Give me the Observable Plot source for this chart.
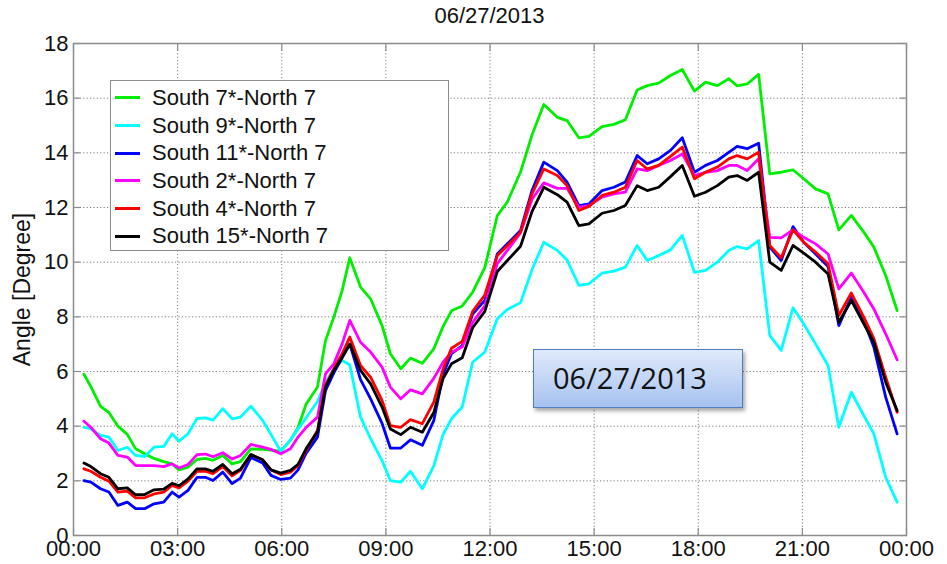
<!DOCTYPE html>
<html>
<head>
<meta charset="utf-8">
<script src="https://cdn.jsdelivr.net/npm/d3@7"></script>
<script src="https://cdn.jsdelivr.net/npm/@observablehq/plot@0.6"></script>
<style>
  html, body { margin: 0; padding: 0; background: #fff; }
  #wrap { position: relative; width: 947px; height: 564px; overflow: hidden; font-family: "Liberation Sans", Arial, sans-serif; }
  #title { position: absolute; left: 0; width: 979px; top: 3px; text-align: center; font-size: 22px; color: #111; }
  #legend { position: absolute; left: 110px; top: 80px; width: 339px; height: 171px; background: #fff; border: 1.5px solid #8c8c8c; box-sizing: border-box; padding-top: 3px; }
  .row { height: 27.7px; display: flex; align-items: center; font-size: 22px; color: #111; white-space: nowrap; }
  .swatch { width: 25px; height: 3px; margin-left: 4px; margin-right: 12px; }
  #note { position: absolute; left: 533px; top: 349px; width: 210px; height: 59px; box-sizing: border-box;
          border: 1.5px solid #4f7fc0; background: linear-gradient(#e0eafb, #a6c2f0);
          box-shadow: 2px 3px 4px rgba(0,0,0,0.35); font-family: "Open Sans", sans-serif; font-size: 29px;
          color: #111; padding-left: 19px; line-height: 56px; }
</style>
</head>
<body>
<div id="wrap">
  <div id="chart"></div>
  <div id="title"></div>
  <div id="legend"></div>
  <div id="note"></div>
</div>
<script>
// ---- data (hours of day, angle in degrees) ----
const times = [0.30, 0.50, 0.78, 1.02, 1.28, 1.55, 1.79, 2.05, 2.32, 2.60, 2.84, 3.04, 3.30, 3.56, 3.80, 4.02, 4.30, 4.57, 4.81, 5.11,
  5.45, 5.69, 5.97, 6.25, 6.47, 6.70, 7.03, 7.26, 7.50, 7.74, 7.96, 8.27, 8.56, 8.89, 9.13, 9.43, 9.71, 10.05, 10.38, 10.65,
  10.89, 11.20, 11.50, 11.85, 12.21, 12.50, 12.88, 13.21, 13.55, 13.94, 14.22, 14.56, 14.85, 15.23, 15.57, 15.90, 16.24, 16.53, 16.86, 17.20,
  17.54, 17.89, 18.21, 18.55, 18.88, 19.12, 19.41, 19.74, 20.06, 20.39, 20.73, 21.04, 21.38, 21.74, 22.05, 22.41, 22.77, 23.06, 23.40, 23.73];

const south7 = [5.9, 5.45, 4.72, 4.5, 4.0, 3.7, 3.17, 2.99, 2.82, 2.7, 2.62, 2.4, 2.5, 2.78, 2.82, 2.75, 2.93, 2.62, 2.7, 3.17,
  3.15, 3.12, 3.09, 3.48, 3.95, 4.8, 5.43, 7.13, 7.99, 8.96, 10.16, 9.09, 8.66, 7.68, 6.65, 6.1, 6.49, 6.3, 6.83, 7.65,
  8.22, 8.4, 8.9, 9.8, 11.7, 12.2, 13.3, 14.65, 15.77, 15.3, 15.18, 14.55, 14.6, 14.96, 15.04, 15.21, 16.3, 16.46, 16.55, 16.83,
  17.05, 16.26, 16.59, 16.46, 16.71, 16.45, 16.52, 16.87, 13.23, 13.29, 13.38, 13.05, 12.68, 12.5, 11.18, 11.71, 11.1, 10.55, 9.51, 8.23];

const south9 = [3.96, 3.9, 3.66, 3.6, 3.11, 3.23, 2.93, 2.89, 3.23, 3.26, 3.72, 3.45, 3.72, 4.28, 4.3, 4.22, 4.64, 4.27, 4.33, 4.73,
  4.21, 3.7, 3.08, 3.5, 3.9, 4.3, 4.9, 5.6, 6.1, 6.4, 6.25, 4.33, 3.54, 2.74, 2.01, 1.95, 2.35, 1.71, 2.55, 3.7,
  4.27, 4.7, 6.34, 6.71, 7.93, 8.27, 8.52, 9.72, 10.73, 10.43, 10.08, 9.15, 9.21, 9.6, 9.67, 9.82, 10.61, 10.06, 10.24, 10.45,
  10.98, 9.63, 9.7, 10.0, 10.43, 10.57, 10.49, 10.79, 7.32, 6.77, 8.33, 7.74, 7.01, 6.22, 3.96, 5.24, 4.39, 3.72, 2.13, 1.22];

const south11 = [2.01, 1.95, 1.71, 1.59, 1.10, 1.22, 0.98, 0.98, 1.16, 1.22, 1.59, 1.40, 1.65, 2.13, 2.13, 2.01, 2.32, 1.9, 2.1, 2.85,
  2.65, 2.2, 2.05, 2.1, 2.4, 3.0, 3.6, 5.3, 5.95, 6.5, 7.0, 5.7, 5.0, 4.1, 3.2, 3.2, 3.5, 3.3, 4.2, 5.9,
  6.65, 6.95, 8.1, 8.6, 10.3, 10.67, 11.16, 12.62, 13.66, 13.35, 12.93, 12.07, 12.13, 12.62, 12.74, 12.93, 13.9, 13.6, 13.78, 14.09,
  14.55, 13.29, 13.54, 13.72, 14.02, 14.24, 14.15, 14.35, 10.55, 10.06, 11.3, 10.73, 10.3, 9.84, 7.68, 8.72, 7.87, 6.89, 5.06, 3.72];

const south2 = [4.18, 3.96, 3.54, 3.38, 2.93, 2.87, 2.56, 2.56, 2.56, 2.52, 2.62, 2.47, 2.6, 2.96, 2.98, 2.88, 3.03, 2.8, 2.93, 3.33,
  3.23, 3.15, 2.99, 3.17, 3.6, 3.95, 4.33, 5.91, 6.28, 7.01, 7.87, 7.07, 6.71, 6.16, 5.43, 5.0, 5.33, 5.18, 5.75, 6.35,
  6.7, 6.9, 7.8, 8.4, 9.95, 10.43, 11.07, 12.3, 12.9, 12.7, 12.7, 12.01, 12.07, 12.38, 12.5, 12.56, 13.41, 13.35, 13.54, 13.72,
  13.96, 13.17, 13.29, 13.35, 13.54, 13.54, 13.35, 13.78, 10.91, 10.89, 11.18, 10.91, 10.67, 10.3, 9.02, 9.6, 8.9, 8.29, 7.38, 6.43];

const south4 = [2.44, 2.35, 2.13, 1.99, 1.59, 1.62, 1.38, 1.38, 1.52, 1.59, 1.83, 1.74, 1.99, 2.35, 2.35, 2.26, 2.52, 2.18, 2.38, 2.96,
  2.77, 2.4, 2.23, 2.32, 2.56, 3.11, 3.84, 5.49, 6.1, 6.65, 7.26, 6.22, 5.79, 4.94, 4.02, 3.96, 4.24, 4.09, 4.88, 6.1,
  6.85, 7.1, 8.2, 8.8, 10.24, 10.6, 11.1, 12.5, 13.41, 13.17, 12.8, 11.89, 12.04, 12.44, 12.56, 12.74, 13.72, 13.41, 13.54, 13.87,
  14.21, 13.05, 13.29, 13.48, 13.78, 13.9, 13.78, 14.02, 10.61, 10.16, 11.18, 10.73, 10.37, 9.94, 8.05, 8.87, 7.99, 7.2, 5.79, 4.51];

const south15 = [2.65, 2.52, 2.26, 2.13, 1.71, 1.74, 1.49, 1.5, 1.67, 1.7, 1.91, 1.82, 2.07, 2.44, 2.44, 2.35, 2.6, 2.26, 2.42, 2.96,
  2.77, 2.4, 2.28, 2.38, 2.6, 3.17, 3.8, 5.43, 6.04, 6.52, 7.01, 6.04, 5.55, 4.7, 3.9, 3.69, 3.96, 3.78, 4.5, 5.75,
  6.28, 6.5, 7.6, 8.2, 9.66, 10.06, 10.58, 11.85, 12.74, 12.47, 12.2, 11.34, 11.4, 11.79, 11.89, 12.07, 12.8, 12.62, 12.74, 13.13,
  13.54, 12.41, 12.56, 12.8, 13.11, 13.17, 12.99, 13.29, 10.0, 9.7, 10.61, 10.33, 10.0, 9.57, 7.8, 8.6, 7.74, 7.07, 5.61, 4.57];

const seriesNames = ["South 7*-North 7", "South 9*-North 7", "South 11*-North 7", "South 2*-North 7", "South 4*-North 7", "South 15*-North 7"];
const seriesColors = ["#00ee00", "#00ffff", "#0000ff", "#ff00ff", "#ff0000", "#000000"];
const xTicks = [0, 3, 6, 9, 12, 15, 18, 21, 24];
const yTicks = [0, 2, 4, 6, 8, 10, 12, 14, 16, 18];
const titleText = "06/27/2013";
const yLabel = "Angle [Degree]";
const noteText = "06/27/2013";

// ---- build ----
const allSeries = [south7, south9, south11, south2, south4, south15];
const rows = [];
allSeries.forEach((vals, i) => vals.forEach((v, j) => rows.push({t: times[j], v, name: seriesNames[i]})));

const fmtTime = h => String(h % 24).padStart(2, "0") + ":00";
const gridStyle = {stroke: "#7c7c7c", strokeOpacity: 1, strokeWidth: 1, strokeDasharray: "1.2,2.2"};
const tickStyle = {stroke: "#8c8c8c", strokeWidth: 1.2, tickSize: -7, tickFormat: () => "", label: null};

const chart = Plot.plot({
  width: 947, height: 564,
  marginLeft: 73, marginRight: 41, marginTop: 43, marginBottom: 29,
  style: {fontFamily: "'Liberation Sans', Arial, sans-serif", fontSize: "22px", color: "#111", background: "#fff"},
  x: {domain: [0, 24]},
  y: {domain: [0, 18]},
  color: {domain: seriesNames, range: seriesColors},
  marks: [
    Plot.gridX(xTicks, gridStyle),
    Plot.gridY(yTicks, gridStyle),
    Plot.axisX(xTicks, {anchor: "bottom", ...tickStyle}),
    Plot.axisX(xTicks, {anchor: "top", ...tickStyle}),
    Plot.axisY(yTicks, {anchor: "left", ...tickStyle}),
    Plot.axisY(yTicks, {anchor: "right", ...tickStyle}),
    Plot.frame({stroke: "#8c8c8c", strokeWidth: 1.5}),
    Plot.axisX(xTicks, {anchor: "bottom", tickSize: 0, tickPadding: 5, tickFormat: fmtTime, label: null}),
    Plot.axisY(yTicks, {anchor: "left", tickSize: 0, tickPadding: 5, label: null}),
    Plot.axisY(yTicks, {anchor: "left", tickSize: 0, tickFormat: () => "", label: yLabel, labelAnchor: "center",
      labelArrow: "none", labelOffset: 60, fontSize: 23}),
    Plot.line(rows, {x: "t", y: "v", z: "name", stroke: "name", strokeWidth: 2.8, strokeLinejoin: "round"})
  ]
});
document.getElementById("chart").appendChild(chart);

document.getElementById("title").textContent = titleText;
document.getElementById("note").textContent = noteText;
const legend = document.getElementById("legend");
seriesNames.forEach((n, i) => {
  const r = document.createElement("div");
  r.className = "row";
  const s = document.createElement("span");
  s.className = "swatch";
  s.style.background = seriesColors[i];
  const t = document.createElement("span");
  t.textContent = n;
  r.appendChild(s); r.appendChild(t);
  legend.appendChild(r);
});
</script>
</body>
</html>
